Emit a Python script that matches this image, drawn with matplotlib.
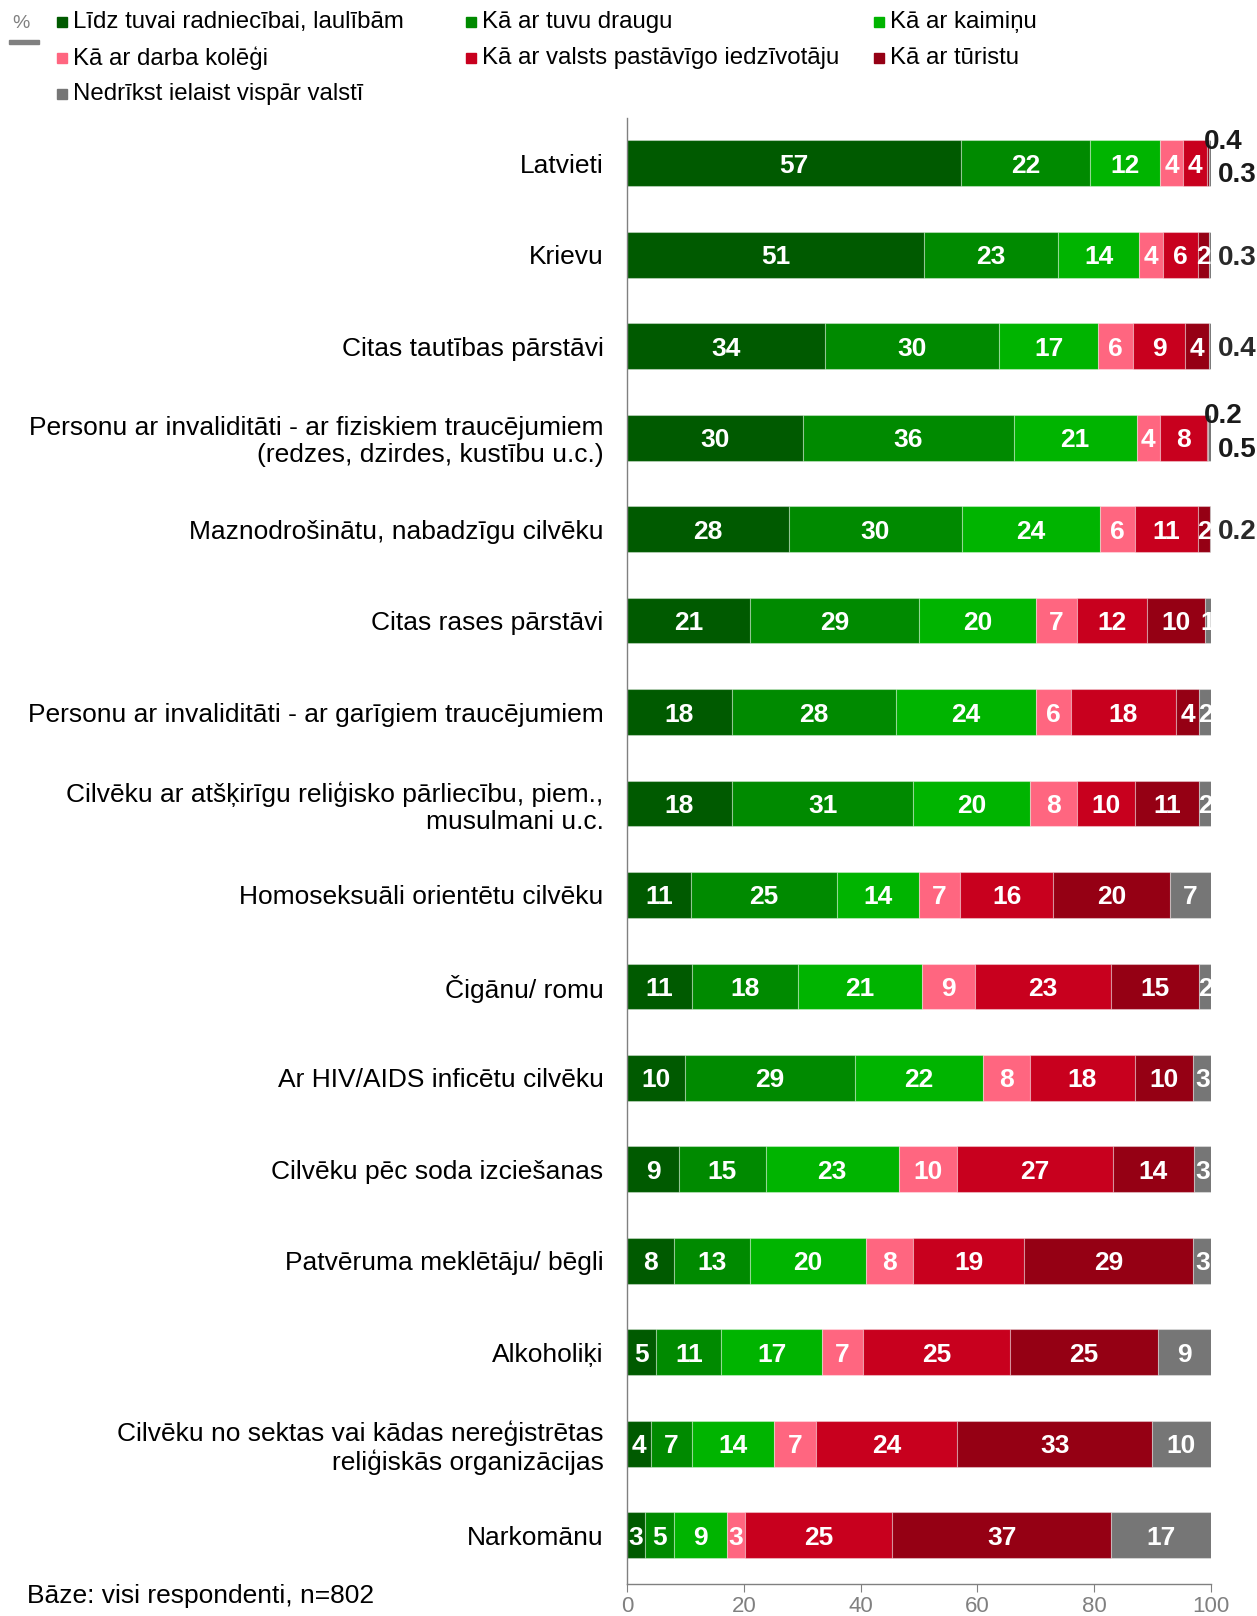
import matplotlib.pyplot as plt
from matplotlib.patches import Rectangle

plt.rcParams["font.family"] = ["Liberation Sans", "DejaVu Sans"]

categories = [
    "Latvieti",
    "Krievu",
    "Citas tautības pārstāvi",
    "Personu ar invaliditāti - ar fiziskiem traucējumiem\n(redzes, dzirdes, kustību u.c.)",
    "Maznodrošinātu, nabadzīgu cilvēku",
    "Citas rases pārstāvi",
    "Personu ar invaliditāti - ar garīgiem traucējumiem",
    "Cilvēku ar atšķirīgu reliģisko pārliecību, piem.,\nmusulmani u.c.",
    "Homoseksuāli orientētu cilvēku",
    "Čigānu/ romu",
    "Ar HIV/AIDS inficētu cilvēku",
    "Cilvēku pēc soda izciešanas",
    "Patvēruma meklētāju/ bēgli",
    "Alkoholiķi",
    "Cilvēku no sektas vai kādas nereģistrētas\nreliģiskās organizācijas",
    "Narkomānu",
]

series_names = [
    "Līdz tuvai radniecībai, laulībām",
    "Kā ar tuvu draugu",
    "Kā ar kaimiņu",
    "Kā ar darba kolēģi",
    "Kā ar valsts pastāvīgo iedzīvotāju",
    "Kā ar tūristu",
    "Nedrīkst ielaist vispār valstī",
]

radniecibai = [57, 51, 34, 30, 28, 21, 18, 18, 11, 11, 10, 9, 8, 5, 4, 3]
draugu = [22, 23, 30, 36, 30, 29, 28, 31, 25, 18, 29, 15, 13, 11, 7, 5]
kaiminu = [12, 14, 17, 21, 24, 20, 24, 20, 14, 21, 22, 23, 20, 17, 14, 9]
kolegi = [4, 4, 6, 4, 6, 7, 6, 8, 7, 9, 8, 10, 8, 7, 7, 3]
iedzivotaju = [4, 6, 9, 8, 11, 12, 18, 10, 16, 23, 18, 27, 19, 25, 24, 25]
turistu = [0.4, 2, 4, 0.2, 2, 10, 4, 11, 20, 15, 10, 14, 29, 25, 33, 37]
nedrikst = [0.3, 0.3, 0.4, 0.5, 0.2, 1, 2, 2, 7, 2, 3, 3, 3, 9, 10, 17]

colors = ["#005a00", "#008a00", "#00b400", "#ff6680", "#c8001e", "#950014", "#767676"]

all_series = [radniecibai, draugu, kaiminu, kolegi, iedzivotaju, turistu, nedrikst]


def fmt(v):
    return str(int(v)) if float(v).is_integer() else f"{v:.1f}"


fig = plt.figure(figsize=(12.57, 16.16), dpi=100)
ax = fig.add_axes([0.4988, 0.0200, 0.4646, 0.9067])

y = list(range(len(categories)))
# each row is drawn as a share of its own total (100% stacked)
totals = [sum(s[i] for s in all_series) for i in y]
left = [0.0] * len(categories)
for name, vals, col in zip(series_names, all_series, colors):
    widths = [v / t * 100 for v, t in zip(vals, totals)]
    ax.barh(y, widths, left=left, height=0.5, color=col,
            edgecolor=(1, 1, 1, 0.35), linewidth=0.8)
    for i, v in enumerate(vals):
        if v >= 1:
            ax.text(left[i] + widths[i] / 2, i, fmt(v), ha="center", va="center_baseline",
                    color="white", fontsize=19, fontweight="bold", clip_on=True)
    left = [l + w for l, w in zip(left, widths)]

# values under 1 are written to the right of the bar
for i in y:
    small = [s[i] for s in all_series if s[i] < 1]
    if len(small) == 2:
        ax.text(98.8, i - 0.27, fmt(small[0]), ha="left", va="center_baseline",
                fontsize=20, fontweight="bold", color="#1a1a1a", clip_on=False)
        ax.text(101.2, i + 0.1, fmt(small[1]), ha="left", va="center_baseline",
                fontsize=20, fontweight="bold", color="#1a1a1a", clip_on=False)
    elif len(small) == 1:
        ax.text(101.2, i, fmt(small[0]), ha="left", va="center_baseline",
                fontsize=20, fontweight="bold", color="#2a2a2a", clip_on=False)

ax.set_xlim(0, 100)
ax.set_ylim(15.53, -0.49)
ax.set_yticks(y)
ax.set_yticklabels(categories, fontsize=19, linespacing=1.15)
ax.tick_params(axis="y", length=0, pad=17)
ax.set_xticks([0, 20, 40, 60, 80, 100])
ax.tick_params(axis="x", colors="#808080", labelsize=16, length=6, pad=3)
for t in ax.get_xticklabels():
    t.set_color("#808080")
for side in ["top", "right"]:
    ax.spines[side].set_visible(False)
for side in ["left", "bottom"]:
    ax.spines[side].set_color("#808080")
    ax.spines[side].set_linewidth(1.0)

# legend laid out row by row in three fixed columns
col_x = [57, 466, 874]
row_y = [22, 58, 94]
W, H = 1257, 1616
for k, (name, col) in enumerate(zip(series_names, colors)):
    cx = col_x[k % 3]
    cy = row_y[k // 3]
    fig.patches.append(Rectangle((cx / W, 1 - (cy + 5) / H), 10 / W, 10 / H,
                                 transform=fig.transFigure, color=col))
    fig.text((cx + 16) / W, 1 - cy / H, name, ha="left", va="center", fontsize=17.3)

fig.text(21 / W, 1 - 23 / H, "%", ha="center", va="center", fontsize=14, color="#808080")
fig.patches.append(Rectangle((9 / W, 1 - 44 / H), 30 / W, 4 / H,
                             transform=fig.transFigure, color="#808080"))

fig.text(27 / W, 1 - 1596 / H, "Bāze: visi respondenti, n=802", ha="left", va="center",
         fontsize=19)

fig.savefig("out.png", dpi=100)
